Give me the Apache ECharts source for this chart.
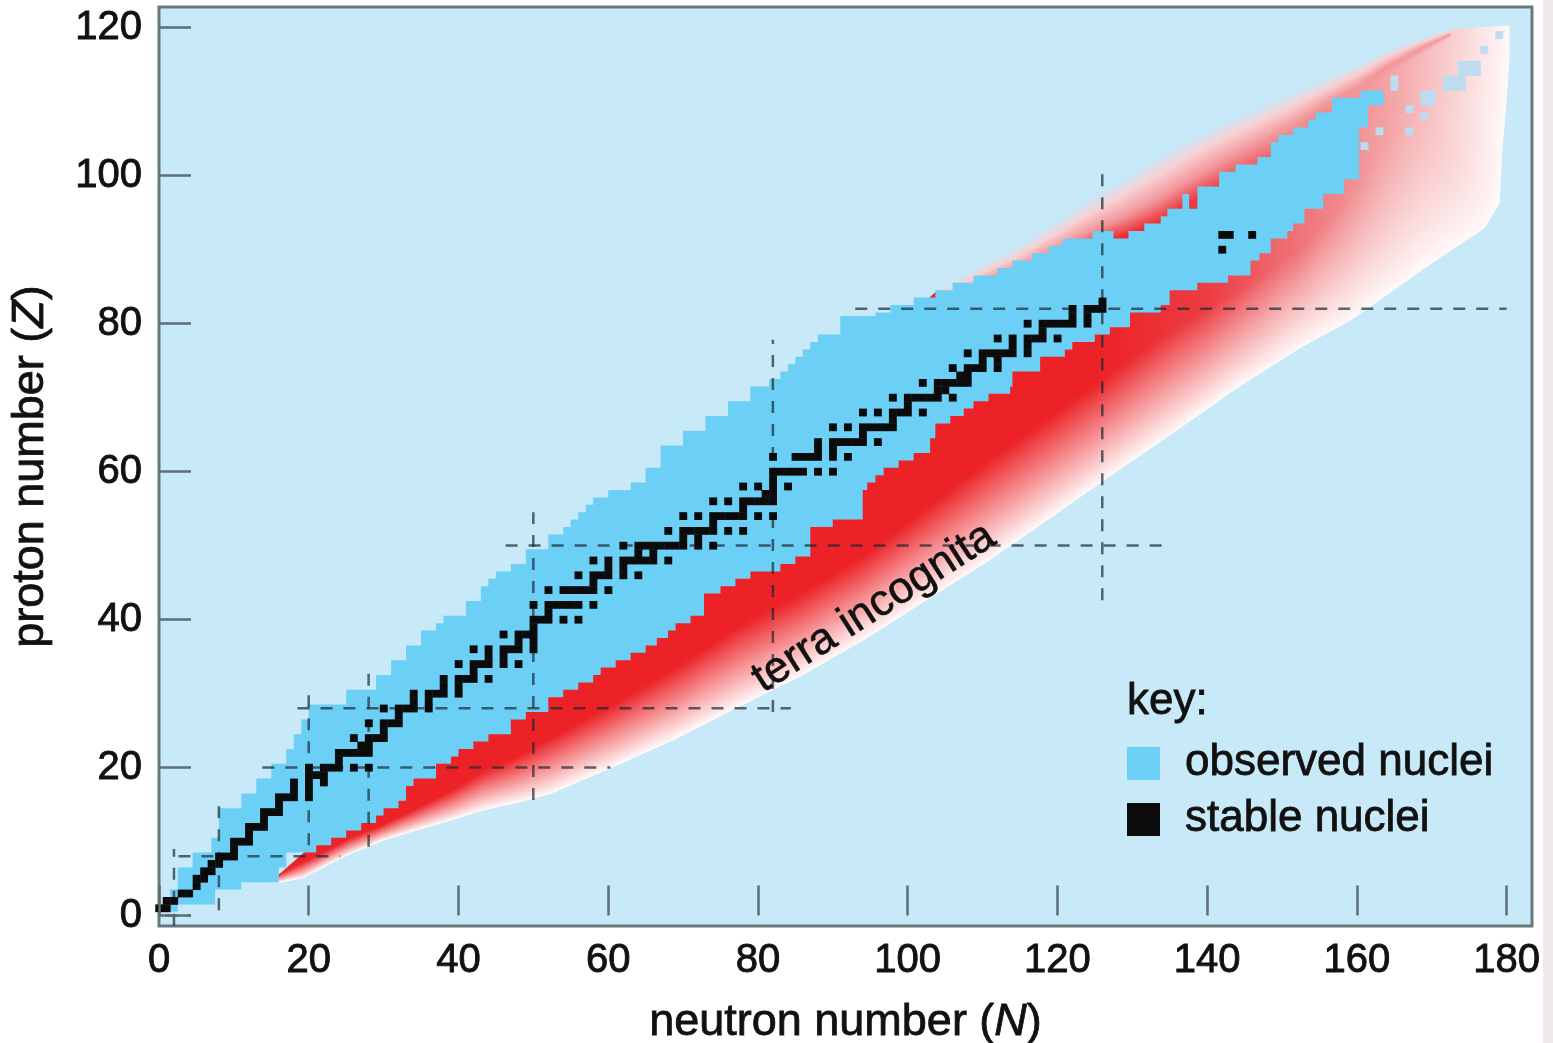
<!DOCTYPE html>
<html>
<head>
<meta charset="utf-8">
<script src="https://cdn.jsdelivr.net/npm/echarts@6/dist/echarts.min.js"></script>
<style>
  html, body { margin: 0; padding: 0; background: #ffffff; }
  #chart { width: 1553px; height: 1043px; }
</style>
</head>
<body>
<div id="chart"></div>
<script>
// ---- Chart of nuclides: proton number Z against neutron number N ----

// Axis ticks
const nTicks = [0, 20, 40, 60, 80, 100, 120, 140, 160, 180];
const zTicks = [0, 20, 40, 60, 80, 100, 120];

// Observed nuclei: proton-rich (upper) edge as steps [N from, Z top edge]
const observedUpper = [
  [1.5, 3.5], [2.5, 6.5], [4.5, 8.5], [7, 10.5], [8, 14.5], [11, 16.5], [13, 18.5],
  [15, 20.5], [17, 22.5], [18, 24.5], [19, 26.5], [20, 28.5], [25, 30.5], [29, 32.5],
  [31, 34.5], [33, 36.5], [35, 38.5], [37, 39.5], [38, 40.5], [41, 42.5], [43, 44.5],
  [44, 45.5], [45, 46.5], [47, 47.5], [49, 49.5], [52, 51.5], [54, 52.5], [55, 53.5],
  [56, 54.5], [57, 55.5], [58, 56.5], [60, 57.5], [63, 58.5], [65, 60.5], [67, 63.5],
  [70, 65.5], [73, 67.5], [76, 69.5], [79, 71.5], [81.5, 72.5], [83, 73.5], [84, 74.5],
  [85, 75.5], [86, 76.5], [87, 77.5], [88, 78.5], [91, 81], [95.7, 81.5], [97.7, 82.5],
  [100.8, 83.5], [103.7, 84.5], [106, 85.5], [108.8, 86.5], [112, 87.5], [114, 88.5],
  [116.6, 89.5], [118.9, 90.5], [120.7, 91.5], [124.7, 92.5], [127.5, 91.5], [129.5, 92.5],
  [131.6, 93.5], [133.8, 94.5], [134.7, 95.5], [136.7, 97.5], [137.6, 95.5], [138.7, 98.5],
  [141.6, 100.5], [143.8, 101.5], [146.7, 102.5], [148.5, 104.5], [149.5, 105.5],
  [151.5, 106.5], [153.5, 107.5], [154.5, 108.5], [156.7, 110.5], [160.5, 111.5]
];
// Observed nuclei: neutron-rich (lower) edge as steps [N from, Z bottom edge]
const observedLower = [
  [1.5, 0.5], [2.5, 1.5], [7.5, 3.5], [11, 4.5], [16, 6.5], [17, 8.5], [21, 9.5],
  [23, 10.5], [25, 11.5], [27, 12.5], [29, 13.5], [30, 14.5], [32, 15.5], [33, 17.5],
  [34, 18.5], [37, 20.5], [39, 21.5], [40, 22.5], [42, 23.5], [44, 24.5], [47, 26.5],
  [49, 27.5], [52, 29.5], [54, 30.5], [56, 31.5], [58, 32.5], [59, 33.5], [61, 34.5],
  [63, 35.5], [65, 36.5], [66.5, 37.5], [68, 38.5], [69, 39.5], [71, 40.5], [72.8, 43.5],
  [75, 44.5], [77, 45.5], [79, 46.5], [83, 47.5], [85, 48.5], [87, 52.5], [90, 53.5],
  [94, 57.5], [94.6, 58.5], [95.7, 59.5], [96.8, 60.5], [98.8, 61.5], [100.8, 62.5],
  [103, 64.5], [103.7, 66.5], [105.7, 67.5], [107.5, 68.5], [108.8, 69.5], [110.8, 70.5],
  [113.7, 71.5], [114, 73.5], [117.7, 75.5], [121, 76.5], [122, 77.5], [125, 78.5],
  [127, 79.5], [129.7, 81.5], [133.8, 82.5], [135, 84.5], [138.7, 85.5], [142.8, 86.5],
  [145.8, 88.5], [147, 89.5], [148.5, 91.5], [150.7, 92.5], [151.5, 93.5], [153, 95.5],
  [155.5, 97.5], [158.3, 99.5], [160.3, 106.5], [161.5, 109.5]
];
const observedEndN = 163.6;

// Isolated superheavy nuclei observed beyond the main band [N, Z]
const superheavy = [
  [161, 104], [163, 106], [167, 106], [169, 108], [167, 109], [169, 110], [170, 110],
  [169, 111], [170, 111], [165, 112], [165, 113], [172, 112], [173, 112], [174, 112],
  [172, 113], [173, 113], [174, 113], [174, 114], [175, 114], [176, 114], [174, 115],
  [175, 115], [176, 115], [177, 117], [179, 119]
];

// Stable nuclei [N, Z]
const stableNuclei = [
  [0,1],[1,1],[1,2],[2,2],[3,3],[4,3],[5,4],[5,5],[6,5],[6,6],[7,6],[7,7],[8,7],
  [8,8],[9,8],[10,8],[10,9],[10,10],[11,10],[12,10],[12,11],[12,12],[13,12],[14,12],
  [14,13],[14,14],[15,14],[16,14],[16,15],[16,16],[17,16],[18,16],[20,16],[18,17],[20,17],
  [18,18],[20,18],[22,18],[20,19],[21,19],[22,19],[20,20],[22,20],[23,20],[24,20],[26,20],[28,20],
  [24,21],[24,22],[25,22],[26,22],[27,22],[28,22],[27,23],[28,23],[26,24],[28,24],[29,24],[30,24],
  [30,25],[28,26],[30,26],[31,26],[32,26],[32,27],[30,28],[32,28],[33,28],[34,28],[36,28],
  [34,29],[36,29],[34,30],[36,30],[37,30],[38,30],[40,30],[38,31],[40,31],
  [38,32],[40,32],[41,32],[42,32],[44,32],[42,33],[40,34],[42,34],[43,34],[44,34],[46,34],[48,34],
  [44,35],[46,35],[42,36],[44,36],[46,36],[47,36],[48,36],[50,36],[48,37],[50,37],
  [46,38],[48,38],[49,38],[50,38],[50,39],[50,40],[51,40],[52,40],[54,40],[56,40],[52,41],
  [50,42],[52,42],[53,42],[54,42],[55,42],[56,42],[58,42],
  [52,44],[54,44],[55,44],[56,44],[57,44],[58,44],[60,44],[58,45],
  [56,46],[58,46],[59,46],[60,46],[62,46],[64,46],[60,47],[62,47],
  [58,48],[60,48],[62,48],[63,48],[64,48],[65,48],[66,48],[68,48],[64,49],[66,49],
  [62,50],[64,50],[65,50],[66,50],[67,50],[68,50],[69,50],[70,50],[72,50],[74,50],[70,51],[72,51],
  [68,52],[70,52],[71,52],[72,52],[73,52],[74,52],[76,52],[78,52],[74,53],
  [70,54],[72,54],[74,54],[75,54],[76,54],[77,54],[78,54],[80,54],[82,54],[78,55],
  [74,56],[76,56],[78,56],[79,56],[80,56],[81,56],[82,56],[81,57],[82,57],
  [78,58],[80,58],[82,58],[84,58],[82,59],
  [82,60],[83,60],[84,60],[85,60],[86,60],[88,60],[90,60],
  [82,62],[85,62],[86,62],[87,62],[88,62],[90,62],[92,62],[88,63],[90,63],
  [88,64],[90,64],[91,64],[92,64],[93,64],[94,64],[96,64],[94,65],
  [90,66],[92,66],[94,66],[95,66],[96,66],[97,66],[98,66],[98,67],
  [94,68],[96,68],[98,68],[99,68],[100,68],[102,68],[100,69],
  [98,70],[100,70],[101,70],[102,70],[103,70],[104,70],[106,70],[104,71],[105,71],
  [102,72],[104,72],[105,72],[106,72],[107,72],[108,72],[107,73],[108,73],
  [106,74],[108,74],[109,74],[110,74],[112,74],[110,75],[112,75],
  [108,76],[110,76],[111,76],[112,76],[113,76],[114,76],[116,76],[114,77],[116,77],
  [112,78],[114,78],[116,78],[117,78],[118,78],[120,78],[118,79],
  [116,80],[118,80],[119,80],[120,80],[121,80],[122,80],[124,80],[122,81],[124,81],
  [122,82],[124,82],[125,82],[126,82],[126,83],
  [142,90],[142,92],[143,92],[146,92]
];

// Terra incognita: neutron drip line, and the line where the deep red starts to pale
const neutronDrip = [
  [16,4.5],[19.2,5.1],[22,6.6],[25.6,8.4],[30,10.2],[34.5,11.6],[39,12.9],[43.4,14.3],
  [47.9,15.3],[52.3,16.5],[60.6,20.1],[69,23.9],[77.3,28.2],[85.7,32.4],[94,37.2],
  [102.4,42.6],[110.7,47.9],[119.1,53.8],[127.4,59.7],[135.8,65.5],[144.1,71.4],
  [152.5,76.8],[159.2,80.5],[163.6,83.6],[168,86.8],[172.5,89.9],[177,92.9],[179,96.3],
  [179.4,104],[180,111],[180.3,115.6],[180.3,120.2]
];
const redCore = [
  [16,5.5],[19.2,7.2],[22,8.6],[25.6,10.5],[30,12.3],[34.5,14.5],[39,16.8],[43.4,19.5],
  [47.9,21.5],[52.3,24],[60.6,28.5],[69,33.5],[77.3,39],[85.7,43.5],[94,48.5],
  [102.4,55],[110.7,61.5],[119.1,67.5],[127.4,73.5],[135.8,79.5],[144.1,84.5],
  [152.5,90],[158,96],[161,100],[163.5,104],[165,107],[166,109.5],[166.5,111.5],
  [167,113.5],[168,115.5],[169.5,117.5],[172.5,119.7]
];
// Proton drip line (soft outer edge) and the inner edge of its margin
const protonDrip = [
  [104,84.5],[110,88],[114,90],[118.7,93],[123.1,96],[127.5,98.8],[132.2,101.8],
  [136.9,104.5],[141.4,106.8],[145.8,108.8],[150.2,110.8],[154.7,112.6],[159.2,114.5],
  [163.6,116.7],[168,118.4],[172.5,119.7]
];
const protonInner = [
  [106,82],[112,85],[116,86.5],[120.5,88.5],[125,90.5],[129.5,92],[134,94],
  [138.7,97],[143,99.5],[147.5,102],[152,104.5],[156.5,108],[161,111],[165,114],
  [169,116.5],[172.5,118.7]
];

// Magic numbers: vertical [N, Z from, Z to], horizontal [Z, N from, N to]
const magicN = [[2, -1.4, 9], [8, 0.7, 16], [20, 9.5, 31], [28, 9.3, 33.8], [50, 15.6, 54.5], [82, 27.5, 77.8], [126, 42.6, 100.7]];
const magicZ = [[0, 0.8, 4.2], [8, 2.6, 24.2], [20, 13.8, 60.3], [28, 18.5, 84.4], [50, 46.3, 135], [82, 93, 180]];

// ---- styling ----
const FONT = 'Liberation Sans, Arial, Helvetica, sans-serif';
const INK = '#111111';
const BG = '#c7e9f8';
const OBSERVED = '#6ccff5';
const STABLE = '#0b0b0b';
// red of the unknown region pales towards the heaviest nuclei
const redRamp = [[125, [236, 34, 39]], [140, [236, 61, 66]], [150, [239, 106, 110]], [158, [240, 138, 141]],
                 [165, [244, 166, 168]], [172, [248, 202, 203]], [180, [253, 232, 232]]];
function rgbStr(c) { return 'rgb(' + c.map(Math.round).join(',') + ')'; }
function redAt(n) {
  if (n <= redRamp[0][0]) return redRamp[0][1];
  for (let i = 1; i < redRamp.length; i++) {
    if (n <= redRamp[i][0]) {
      const a = redRamp[i - 1], b = redRamp[i];
      const t = (n - a[0]) / (b[0] - a[0]);
      return a[1].map((v, k) => v + (b[1][k] - v) * t);
    }
  }
  return redRamp[redRamp.length - 1][1];
}

// staircase outline from step lists
function stairs(steps, endN) {
  const pts = [];
  steps.forEach((s, i) => {
    const n1 = i + 1 < steps.length ? steps[i + 1][0] : endN;
    pts.push([s[0], s[1]], [n1, s[1]]);
  });
  return pts;
}
const observedOutline = stairs(observedUpper, observedEndN).concat(stairs(observedLower, observedEndN).reverse());
// deep-red body of the unknown region: red core line, then back along the proton drip line
const terraBody = redCore.concat(protonDrip.slice(0, -1).reverse());

function lerp(a, b, t) { return [a[0] + (b[0] - a[0]) * t, a[1] + (b[1] - a[1]) * t]; }
function mid(a, b) { return lerp(a, b, 0.5); }
// linear gradient running from an inner edge across to an outer edge, perpendicular to the outer edge
function acrossGradient(innerA, innerB, outerA, outerB, stops) {
  const c = mid(innerA, innerB), dm = mid(outerA, outerB);
  const tx = outerB[0] - outerA[0], ty = outerB[1] - outerA[1];
  const len = Math.hypot(tx, ty) || 1;
  let nx = ty / len, ny = -tx / len;
  let d = (dm[0] - c[0]) * nx + (dm[1] - c[1]) * ny;
  if (d < 0) { nx = -nx; ny = -ny; d = -d; }
  return { type: 'linear', x: c[0], y: c[1], x2: c[0] + nx * d, y2: c[1] + ny * d, colorStops: stops, global: true };
}
// band between an inner line and an outer line, painted in thin strips so the fade stays smooth
function fadeBand(inner, outer, stopsAt) {
  return function (params, api) {
    const i = params.dataIndex;
    const ia = api.coord(inner[i]), ib = api.coord(inner[i + 1]);
    const oa = api.coord(outer[i]), ob = api.coord(outer[i + 1]);
    const m = Math.max(1, Math.ceil(Math.max(Math.hypot(ib[0] - ia[0], ib[1] - ia[1]), Math.hypot(ob[0] - oa[0], ob[1] - oa[1])) / 4));
    const children = [];
    for (let j = 0; j < m; j++) {
      const t0 = j / m, t1 = (j + 1) / m;
      const c0 = lerp(ia, ib, t0), c1 = lerp(ia, ib, t1), d0 = lerp(oa, ob, t0), d1 = lerp(oa, ob, t1);
      const n = inner[i][0] + (inner[i + 1][0] - inner[i][0]) * (t0 + t1) / 2;
      const g = acrossGradient(c0, c1, d0, d1, stopsAt(n));
      children.push({ type: 'polygon', shape: { points: [c0, d0, d1, c1] }, style: { fill: g, stroke: g, lineWidth: 1 } });
    }
    return { type: 'group', children: children };
  };
}

function cellSeries(name, data, color, z) {
  return {
    type: 'custom', name: name, z: z, silent: true, data: data,
    renderItem: function (params, api) {
      const p = api.coord([api.value(0) - 0.5, api.value(1) + 0.5]);
      const s = api.size([1, 1]);
      return { type: 'rect', shape: { x: p[0], y: p[1], width: s[0] + 0.4, height: s[1] + 0.4 }, style: { fill: color } };
    }
  };
}

const tickText = { fontSize: 40, color: INK, fontFamily: FONT, textBorderColor: INK, textBorderWidth: 0.9 };
const nameText = { fontSize: 45, color: INK, fontFamily: FONT, textBorderColor: INK, textBorderWidth: 0.8,
  rich: { i: { fontSize: 45, fontStyle: 'italic', color: INK, fontFamily: FONT, textBorderColor: INK, textBorderWidth: 0.8 } } };

const chart = echarts.init(document.getElementById('chart'), null, { renderer: 'canvas' });

const option = {
  animation: false,
  backgroundColor: '#ffffff',
  grid: { left: 159, right: 21, top: 7, bottom: 117, outerBoundsMode: 'none', containLabel: false,
    show: true, backgroundColor: BG, borderColor: '#68787f', borderWidth: 3 },
  xAxis: {
    type: 'value', min: 0, max: 183.4, z: 10,
    axisLine: { show: false },
    splitLine: { show: false },
    axisTick: { inside: true, length: 30, customValues: nTicks, lineStyle: { color: '#5d6d75', width: 2.5 } },
    axisLabel: Object.assign({ customValues: nTicks, margin: 15 }, tickText),
    name: 'neutron number ({i|N})', nameLocation: 'middle', nameGap: 74,
    nameTextStyle: nameText
  },
  yAxis: {
    type: 'value', min: -1.42, max: 122.77, z: 10,
    axisLine: { show: false },
    splitLine: { show: false },
    axisTick: { inside: true, length: 32, customValues: zTicks, lineStyle: { color: '#5d6d75', width: 2.5 } },
    axisLabel: Object.assign({ customValues: zTicks, margin: 17 }, tickText),
    name: 'proton number ({i|Z})', nameLocation: 'middle', nameRotate: 90, nameGap: 106,
    nameTextStyle: nameText
  },
  series: [
    // deep red body of terra incognita
    {
      type: 'custom', name: 'terra', z: 1, silent: true, data: [[0, 0]],
      renderItem: function (params, api) {
        const pts = terraBody.map(p => api.coord(p));
        const x0 = api.coord([125, 0])[0], x1 = api.coord([180, 0])[0];
        const stops = redRamp.map(r => ({ offset: (r[0] - 125) / 55, color: rgbStr(r[1]) }));
        const fill = { type: 'linear', x: x0, y: 0, x2: x1, y2: 0, colorStops: stops, global: true };
        return { type: 'polygon', shape: { points: pts }, style: { fill: fill } };
      }
    },
    // fade from red to white towards the neutron drip line
    {
      type: 'custom', name: 'neutron side', z: 2, silent: true, data: neutronDrip.slice(1),
      renderItem: fadeBand(redCore, neutronDrip, function (n) {
        return [{ offset: 0, color: rgbStr(redAt(n)) }, { offset: 1, color: '#fff8f8' }];
      })
    },
    // soft margin towards the proton drip line
    {
      type: 'custom', name: 'proton side', z: 3, silent: true, data: protonDrip.slice(1),
      renderItem: fadeBand(protonInner, protonDrip, function (n) {
        return [{ offset: 0, color: rgbStr(redAt(n)) }, { offset: 0.35, color: 'rgb(242,150,154)' },
          { offset: 0.72, color: 'rgb(248,208,211)' }, { offset: 1, color: BG }];
      })
    },
    // observed nuclei
    {
      type: 'custom', name: 'observed nuclei', z: 4, silent: true, data: [[0, 0]],
      renderItem: function (params, api) {
        return { type: 'polygon', shape: { points: observedOutline.map(p => api.coord(p)) }, style: { fill: OBSERVED } };
      }
    },
    cellSeries('superheavy', superheavy, '#bddcf0', 5),
    // magic number guide lines
    {
      type: 'custom', name: 'magic N', z: 6, silent: true, data: magicN,
      renderItem: function (params, api) {
        const a = api.coord([api.value(0), api.value(1)]), b = api.coord([api.value(0), api.value(2)]);
        return { type: 'line', shape: { x1: a[0], y1: a[1], x2: b[0], y2: b[1] },
          style: { stroke: 'rgba(28,42,52,0.7)', lineWidth: 2.5, lineDash: [12, 11] } };
      }
    },
    {
      type: 'custom', name: 'magic Z', z: 6, silent: true, data: magicZ,
      renderItem: function (params, api) {
        const a = api.coord([api.value(1), api.value(0)]), b = api.coord([api.value(2), api.value(0)]);
        return { type: 'line', shape: { x1: a[0], y1: a[1], x2: b[0], y2: b[1] },
          style: { stroke: 'rgba(28,42,52,0.7)', lineWidth: 2.5, lineDash: [12, 11] } };
      }
    },
    cellSeries('stable nuclei', stableNuclei, STABLE, 7)
  ]
};
chart.setOption(option);

// key and the label of the unknown region
const labelPos = chart.convertToPixel({ gridIndex: 0 }, [95.5, 41.6]);
const keyText = { fontSize: 44, fontFamily: FONT, fill: INK, stroke: INK, lineWidth: 0.8, verticalAlign: 'middle' };
chart.setOption({
  graphic: [
    { type: 'rect', left: 1543, top: 0, z: 100, shape: { width: 10, height: 1043 }, style: { fill: '#efe9e9' } },
    { type: 'text', x: 1127, y: 702, z: 100, style: Object.assign({ text: 'key:' }, keyText) },
    { type: 'rect', x: 1127, y: 747, z: 100, shape: { width: 33, height: 33 }, style: { fill: OBSERVED } },
    { type: 'text', x: 1185, y: 763, z: 100, style: Object.assign({ text: 'observed nuclei' }, keyText) },
    { type: 'rect', x: 1127, y: 803, z: 100, shape: { width: 33, height: 33 }, style: { fill: STABLE } },
    { type: 'text', x: 1185, y: 819, z: 100, style: Object.assign({ text: 'stable nuclei' }, keyText) },
    { type: 'text', x: labelPos[0], y: labelPos[1], rotation: 32.6 * Math.PI / 180, z: 100,
      style: { text: 'terra incognita', fontSize: 44, fontFamily: FONT, fill: INK, stroke: INK, lineWidth: 0.6, align: 'center', verticalAlign: 'middle' } }
  ]
});
</script>
</body>
</html>
